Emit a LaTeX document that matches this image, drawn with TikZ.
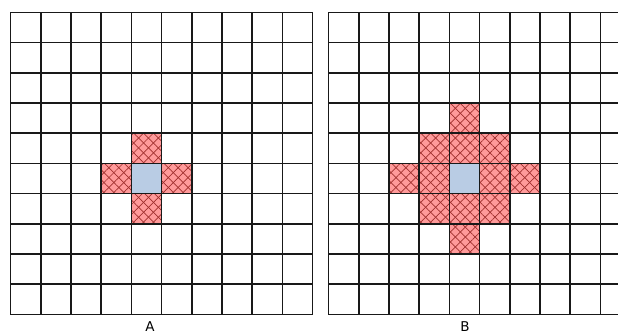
\documentclass[tikz,border=0pt]{standalone}
\usepackage{fontspec}
\setmainfont{DejaVu Sans}
\usetikzlibrary{patterns.meta}
\definecolor{cellred}{HTML}{FF9A9A}
\definecolor{hatchred}{HTML}{A0302E}
\definecolor{cellblue}{HTML}{B9CCE4}
\tikzset{
  redcell/.style={fill=cellred,
    postaction={pattern={Lines[angle=45,distance=7pt,line width=0.7pt]},pattern color=hatchred},
    postaction={pattern={Lines[angle=-45,distance=7pt,line width=0.7pt]},pattern color=hatchred}},
  bluecell/.style={fill=cellblue},
  gridline/.style={draw=black!90, line width=1.6pt, line cap=rect},
  lbl/.style={font=\fontsize{13.5}{16}\selectfont, inner sep=0pt}
}
\begin{document}
\begin{tikzpicture}[x=1pt,y=-1pt]
\useasboundingbox (0,0) rectangle (618,336);
\clip (0,0) rectangle (618,336);
% Grid A
\begin{scope}[shift={(10.5,12.5)}]
  \foreach \c/\r in {4/4,3/5,5/5,4/6}
    \path[redcell] (\c*30.2,\r*30.2) rectangle ++(30.2,30.2);
  \path[bluecell] (4*30.2,5*30.2) rectangle ++(30.2,30.2);
  \foreach \i in {0,...,10} {
    \draw[gridline] (\i*30.2,0) -- (\i*30.2,302);
    \draw[gridline] (0,\i*30.2) -- (302,\i*30.2);
  }
\end{scope}
% Grid B
\begin{scope}[shift={(328.5,12.5)}]
  \foreach \c/\r in {4/3,3/4,4/4,5/4,2/5,3/5,5/5,6/5,3/6,4/6,5/6,4/7}
    \path[redcell] (\c*30.2,\r*30.2) rectangle ++(30.2,30.2);
  \path[bluecell] (4*30.2,5*30.2) rectangle ++(30.2,30.2);
  \foreach \i in {0,...,10} {
    \draw[gridline] (\i*30.2,0) -- (\i*30.2,302);
    \draw[gridline] (0,\i*30.2) -- (302,\i*30.2);
  }
\end{scope}
\node[lbl] (labA) at (150,327) {A};
\node[lbl] (labB) at (465,327) {B};
\end{tikzpicture}
\end{document}
